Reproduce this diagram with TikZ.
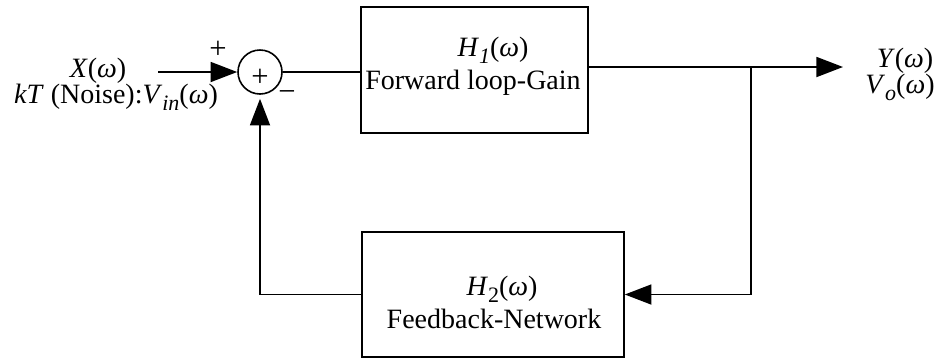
\documentclass[tikz,border=0pt]{standalone}
\usepackage{fontspec}
\setmainfont{Liberation Serif}
\usepackage{tikz}
\usetikzlibrary{arrows.meta, positioning}
\newcommand{\lowsub}[1]{\raisebox{-0.25em}{\fontsize{16.5}{18}\selectfont #1}}
\tikzstyle{block} = [rectangle, draw=black, line width=1.2pt, inner sep=0pt]
\tikzstyle{sumnode} = [circle, draw=black, line width=1.2pt, minimum size=33pt, inner sep=0pt]
\tikzstyle{sig} = [font=\fontsize{21}{25}\selectfont, inner sep=0pt, anchor=base]
\tikzstyle{sign} = [font=\fontsize{23}{26}\selectfont, inner sep=0pt]
\tikzstyle{wire} = [line width=1.4pt]
\tikzstyle{sigarrow} = [line width=1.4pt, -{Triangle[length=20pt,width=15pt]}]

\begin{document}
\begin{tikzpicture}[x=0.75pt, y=-0.75pt]
\useasboundingbox (0,0) rectangle (944,358);

            % Place nodes
            \node (sum) [sumnode] at (260,72) {};
            \node (fwd) [block, minimum width=170.25pt, minimum height=94.5pt] at (474.5,70) {};
            \node (fbk) [block, minimum width=196.5pt, minimum height=93.75pt] at (493,294.5) {};
            \node (fwdname) [sig] at (493,56) {\textit{H}\lowsub{\textit{1}}(\textit{ω})};
            \node (fwdtext) [sig] at (473,89) {Forward loop-Gain};
            \node (fbkname) [sig] at (502,295) {\textit{H}\lowsub{2}(\textit{ω})};
            \node (fbktext) [sig] at (494,328) {Feedback-Network};
            \node (xin) [sig] at (98,77) {\textit{X}(\textit{ω})};
            \node (vin) [sig] at (116,103) {\textit{kT} (Noise):\textit{V}\lowsub{\textit{in}}(\textit{ω})};
            \node (yout) [sig] at (905,67) {\textit{Y}(\textit{ω})};
            \node (vout) [sig] at (900,93) {\textit{V}\lowsub{\textit{o}}(\textit{ω})};
            \node (plusin) [sign] at (218,50) {+};
            \node (plusmid) [sign] at (260,78) {+};
            \node (minus) [sign] at (287,96) {−};
            \coordinate (insrc) at (158,72);
            \coordinate (tap) at (751,67);
            \coordinate (outend) at (843,67);

            % Draw edges
            \draw [sigarrow] (insrc) -- (sum.west);
            \draw [wire] (sum.east) -- (fwd.west |- sum.east);
            \draw [sigarrow] (fwd.east |- tap) -- (outend);
            \draw [sigarrow] (tap) |- (fbk.east);
            \draw [sigarrow, shorten >=3pt] (fbk.west) -| (sum.south);
        \end{tikzpicture}
\end{document}
